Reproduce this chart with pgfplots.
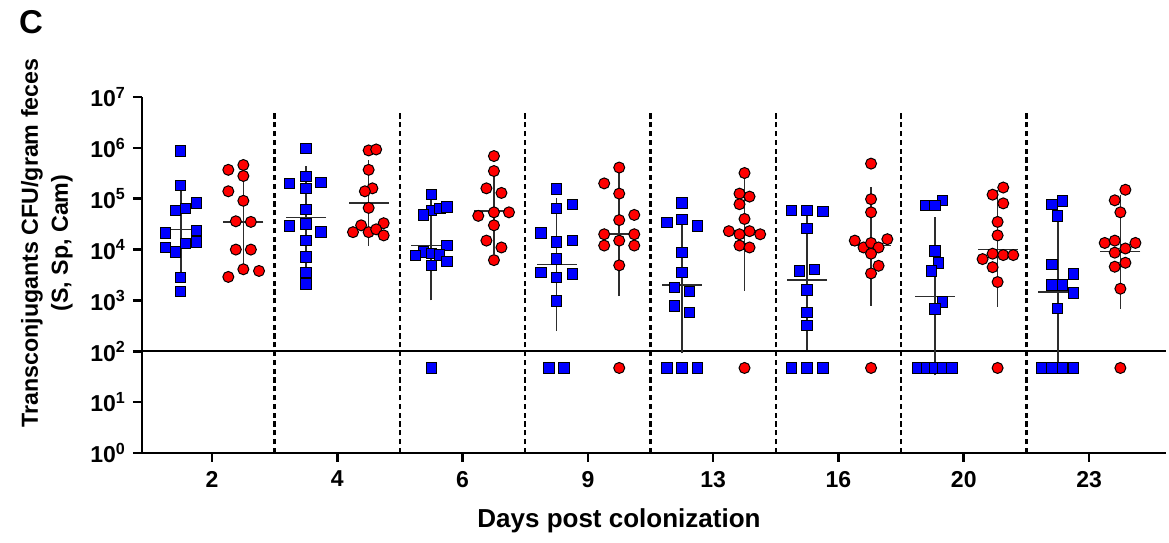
\documentclass[border=0pt]{standalone}
\usepackage{fontspec}
\setmainfont{Liberation Sans}
\usepackage{pgfplots}
\pgfplotsset{compat=1.18}
\usepackage{pgfplotstable}

\definecolor{sqblue}{RGB}{0,0,255}
\definecolor{dotred}{RGB}{255,0,0}
\definecolor{bargray}{RGB}{45,45,45}

% blue squares: x position (group index + jitter), CFU/g
\pgfplotstableread{
x y
0.75 8.7e5
0.75 1.8e5
0.878 8.3e4
0.71 5.9e4
0.79 6.5e4
0.63 2.1e4
0.878 2.4e4
0.878 1.4e4
0.79 1.3e4
0.63 1.1e4
0.71 9.0e3
0.75 2.8e3
0.75 1.5e3
1.75 9.8e5
1.75 2.7e5
1.62 2.0e5
1.87 2.1e5
1.75 1.6e5
1.75 6.2e4
1.75 3.2e4
1.62 2.9e4
1.87 2.2e4
1.75 1.5e4
1.75 7.2e3
1.75 3.5e3
1.75 2.1e3
2.75 1.2e5
2.75 5.9e4
2.82 6.5e4
2.875 6.9e4
2.69 4.8e4
2.875 1.2e4
2.69 8.9e3
2.75 8.3e3
2.815 7.8e3
2.625 7.6e3
2.875 5.8e3
2.75 4.8e3
2.75 47
3.75 1.55e5
3.75 6.5e4
3.875 7.8e4
3.625 2.1e4
3.75 1.4e4
3.875 1.5e4
3.75 6.5e3
3.625 3.5e3
3.75 2.8e3
3.875 3.3e3
3.75 980
3.69 47
3.81 47
4.75 8.3e4
4.63 3.4e4
4.75 3.9e4
4.875 2.9e4
4.75 8.7e3
4.75 3.5e3
4.69 1.8e3
4.81 1.5e3
4.69 780
4.81 580
4.63 47
4.75 47
4.875 47
5.625 5.9e4
5.75 5.9e4
5.875 5.6e4
5.75 2.6e4
5.69 3.8e3
5.81 4.1e3
5.75 1.6e3
5.75 580
5.75 320
5.625 47
5.75 47
5.875 47
6.83 9.3e4
6.70 7.4e4
6.77 7.4e4
6.77 9.3e3
6.80 5.4e3
6.74 3.8e3
6.83 930
6.77 680
6.634 47
6.706 47
6.77 47
6.834 47
6.906 47
7.79 9.1e4
7.705 7.8e4
7.75 4.6e4
7.705 5.1e3
7.875 3.3e3
7.705 2.0e3
7.79 2.0e3
7.875 1.4e3
7.75 690
7.625 47
7.705 47
7.79 47
7.875 47
}\bluepts

% red circles
\pgfplotstableread{
x y
1.13 3.7e5
1.25 4.6e5
1.25 2.8e5
1.13 1.4e5
1.25 9.1e4
1.19 3.6e4
1.31 3.5e4
1.19 1.0e4
1.31 1.0e4
1.25 4.1e3
1.375 3.8e3
1.13 2.9e3
2.25 8.9e5
2.31 9.3e5
2.25 3.7e5
2.28 1.6e5
2.22 1.4e5
2.25 6.6e4
2.19 3.0e4
2.37 3.3e4
2.125 2.2e4
2.25 2.2e4
2.31 2.5e4
2.37 1.9e4
3.25 6.9e5
3.25 3.5e5
3.19 1.6e5
3.31 1.3e5
3.125 4.6e4
3.25 5.4e4
3.37 5.4e4
3.25 3.0e4
3.19 1.5e4
3.31 1.1e4
3.25 6.2e3
4.25 4.1e5
4.13 2.0e5
4.25 1.26e5
4.25 3.8e4
4.37 4.8e4
4.13 2.0e4
4.37 2.0e4
4.13 1.2e4
4.25 1.5e4
4.37 1.2e4
4.25 4.9e3
4.25 47
5.25 3.2e5
5.21 1.26e5
5.29 1.1e5
5.21 7.8e4
5.25 4.0e4
5.125 2.3e4
5.21 2.0e4
5.29 2.3e4
5.375 2.0e4
5.21 1.2e4
5.29 1.1e4
5.25 47
6.26 4.9e5
6.26 9.8e4
6.26 5.4e4
6.13 1.5e4
6.39 1.6e4
6.2 1.1e4
6.26 1.35e4
6.32 1.1e4
6.26 8.3e3
6.32 4.8e3
6.26 3.4e3
6.26 47
7.315 1.66e5
7.23 1.2e5
7.315 8.1e4
7.27 3.5e4
7.27 1.9e4
7.23 8.3e3
7.315 7.8e3
7.395 7.8e3
7.15 6.5e3
7.23 4.5e3
7.27 2.3e3
7.27 47
8.29 1.5e5
8.205 9.3e4
8.25 5.4e4
8.125 1.35e4
8.205 1.5e4
8.37 1.35e4
8.29 1.05e4
8.205 8.7e3
8.29 5.5e3
8.205 4.6e3
8.25 1.7e3
8.25 47
}\redpts

% centre line and whiskers
\pgfplotstableread{
x m lo hi
0.75 2.5e4 4.6e3 1.4e5
1.75 4.3e4 6.9e3 2.7e5
2.75 1.2e4 1.6e3 8.7e4
3.75 5.1e3 400 6.5e4
4.75 2.0e3 145 3.0e4
5.75 2.5e3 170 4.1e4
6.77 1.2e3 54 2.7e4
7.75 1.45e3 85 2.3e4
}\blueerr
\pgfplotstableread{
x m lo hi
1.25 3.5e4 5.5e3 2.3e5
2.25 8.3e4 1.9e4 3.6e5
3.25 5.8e4 1.3e4 2.5e5
4.25 2.0e4 1.95e3 2.0e5
5.25 2.3e4 2.5e3 2.0e5
6.26 1.2e4 1.26e3 1.05e5
7.27 1.0e4 1.2e3 9.3e4
8.25 9.1e3 1.1e3 7.4e4
}\rederr

\begin{document}
\begin{tikzpicture}
\path[use as bounding box] (-71pt,-44.5pt) rectangle (513.5pt,226.5pt);
\begin{semilogyaxis}[
  scale only axis,
  width=512pt,
  height=178pt,
  xmin=0.441, xmax=8.614,
  ymin=1, ymax=1e7,
  axis x line*=bottom,
  axis y line*=left,
  axis line style={line width=1.3pt, black},
  xtick={1,2,3,4,5,6,7,8},
  xticklabels={2,4,6,9,13,16,20,23},
  ytick={1,10,100,1000,10000,100000,1000000,10000000},
  yticklabels={10\textsuperscript{0},10\textsuperscript{1},10\textsuperscript{2},10\textsuperscript{3},10\textsuperscript{4},10\textsuperscript{5},10\textsuperscript{6},10\textsuperscript{7}},
  yminorticks=false,
  tick align=outside,
  major tick length=4.5pt,
  tick style={line width=1.3pt, black},
  ticklabel style={font=\bfseries\fontsize{11.5}{13}\selectfont},
  xticklabel style={yshift=-1pt},
  clip=false,
]
\pgfplotsinvokeforeach{1.5,2.5,3.5,4.5,5.5,6.5,7.5}{
  \addplot[black, line width=1.2pt, dash pattern=on 2.6pt off 1.8pt] coordinates {(#1,1) (#1,4.8e6)};
}
\addplot[black, line width=1.2pt] coordinates {(0.441,100) (8.614,100)};

\addplot[only marks, bargray, mark=-, mark size=10pt, mark options={line width=0.8pt, bargray},
  error bars/.cd, y dir=both, y explicit,
  error mark=-, error mark options={mark size=5.2pt, line width=0.8pt, bargray},
  error bar style={line width=0.8pt, bargray}]
  table[x=x, y=m, y error plus expr=\thisrow{hi}-\thisrow{m}, y error minus expr=\thisrow{m}-\thisrow{lo}] {\blueerr};
\addplot[only marks, bargray, mark=-, mark size=10pt, mark options={line width=0.8pt, bargray},
  error bars/.cd, y dir=both, y explicit,
  error mark=-, error mark options={mark size=5.2pt, line width=0.8pt, bargray},
  error bar style={line width=0.8pt, bargray}]
  table[x=x, y=m, y error plus expr=\thisrow{hi}-\thisrow{m}, y error minus expr=\thisrow{m}-\thisrow{lo}] {\rederr};

\addplot[only marks, mark=square*, mark size=2.6pt,
  mark options={fill=sqblue, draw=black, line width=0.5pt}] table[x=x, y=y] {\bluepts};
\addplot[only marks, mark=*, mark size=2.75pt,
  mark options={fill=dotred, draw=black, line width=0.5pt}] table[x=x, y=y] {\redpts};
\end{semilogyaxis}
\node[font=\bfseries\fontsize{16.5}{16.5}\selectfont] at (-55.5pt,215.5pt) {C};
\node[rotate=90, align=center, font=\bfseries\fontsize{11.6}{15}\selectfont] at (-47.5pt,105pt)
  {Transconjugants CFU/gram feces\\(S, Sp, Cam)};
\node[font=\bfseries\fontsize{13}{15}\selectfont] at (238.5pt,-34pt) {Days post colonization};
\end{tikzpicture}
\end{document}
